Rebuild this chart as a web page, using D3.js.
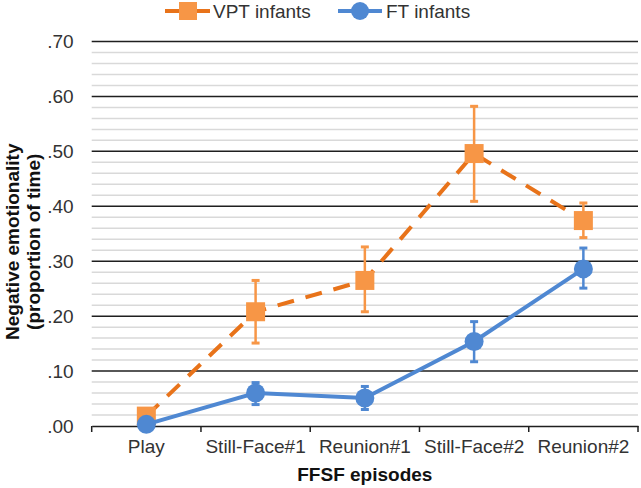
<!DOCTYPE html>
<html><head><meta charset="utf-8">
<script src="https://cdn.jsdelivr.net/npm/d3@7"></script>
<style>body{margin:0;background:#fff}svg{display:block}text{font-family:"Liberation Sans",Arial,sans-serif}</style>
</head><body><svg id="c" width="641" height="488"></svg>
<script>
const categories = ["Play","Still-Face#1","Reunion#1","Still-Face#2","Reunion#2"];
const seriesNames = ["VPT infants","FT infants"];
const vptMean = [0.018,0.208,0.265,0.496,0.374];
const vptLow  = [0.018,0.151,0.208,0.409,0.343];
const vptHigh = [0.018,0.265,0.326,0.582,0.406];
const ftMean  = [0.003,0.060,0.051,0.154,0.286];
const ftLow   = [0.003,0.039,0.030,0.117,0.251];
const ftHigh  = [0.003,0.079,0.072,0.190,0.324];
const yTicks = [0,0.1,0.2,0.3,0.4,0.5,0.6,0.7];
const xTitle = "FFSF episodes";
const yTitle = ["Negative emotionality","(proportion of time)"];

const svg = d3.select("#c");
const L=91.7, R=638, T=41.5, B=426;
const x = d3.scaleBand().domain(categories).range([L,R]).padding(0);
const cx = c => x(c)+x.bandwidth()/2;
const y = d3.scaleLinear().domain([0,0.7]).range([B,T]);
const fmt = v => d3.format(".2f")(v).replace(/^0/,"");

// minor gridlines
const minor = d3.range(0,0.7001,0.02).filter(v=>Math.abs(v*10-Math.round(v*10))>1e-6);
svg.append("g").selectAll("line").data(minor).join("line")
  .attr("x1",L).attr("x2",R).attr("y1",d=>y(d)).attr("y2",d=>y(d))
  .attr("stroke","#d9d9d9").attr("stroke-width",1.5);
// major gridlines
svg.append("g").selectAll("line").data(yTicks.filter(v=>v>0)).join("line")
  .attr("x1",L).attr("x2",R).attr("y1",d=>y(d)).attr("y2",d=>y(d))
  .attr("stroke","#1f1f1f").attr("stroke-width",1.5);

// y axis labels
const ya = svg.append("g").attr("transform",`translate(${L},0)`)
  .call(d3.axisLeft(y).tickValues(yTicks).tickFormat(fmt).tickSize(0).tickPadding(18));
ya.select(".domain").remove();
ya.selectAll("text").attr("font-size",19).attr("fill","#333").attr("font-family","Liberation Sans, Arial, sans-serif");

// x axis
const xa = svg.append("g").attr("transform",`translate(0,${B})`)
  .call(d3.axisBottom(x).tickSize(0).tickPadding(14));
xa.select(".domain").attr("stroke","#1f1f1f").attr("stroke-width",1.5);
xa.selectAll("text").attr("font-size",19).attr("fill","#333").attr("font-family","Liberation Sans, Arial, sans-serif");
const bounds = categories.map(c=>x(c)).concat([R]);
svg.append("g").selectAll("line").data(bounds).join("line")
  .attr("x1",d=>d).attr("x2",d=>d).attr("y1",B).attr("y2",B+6)
  .attr("stroke","#1f1f1f").attr("stroke-width",1.5);

// titles
svg.append("text").attr("x",(L+R)/2).attr("y",481).attr("text-anchor","middle")
  .attr("font-size",19).attr("font-weight","bold").attr("fill","#111").text(xTitle);
const yt = svg.append("text").attr("transform",`translate(19,${(T+B)/2+8}) rotate(-90)`)
  .attr("text-anchor","middle").attr("font-size",19).attr("font-weight","bold").attr("fill","#111");
yt.selectAll("tspan").data(yTitle).join("tspan").attr("x",0).attr("dy",(d,i)=>i?21:0).text(d=>d);

const orangeLine="#E8731A", orange="#F79646", blue="#4F88D2";

function errorBars(g, means, lows, highs, color){
  const d = categories.map((c,i)=>({c,lo:lows[i],hi:highs[i]})).filter(e=>e.hi>e.lo);
  g.selectAll(".eb").data(d).join("line").attr("class","eb")
    .attr("x1",e=>cx(e.c)).attr("x2",e=>cx(e.c)).attr("y1",e=>y(e.lo)).attr("y2",e=>y(e.hi))
    .attr("stroke",color).attr("stroke-width",2.5);
  ["lo","hi"].forEach(k=>{
    g.selectAll(".cap"+k).data(d).join("line").attr("class","cap"+k)
      .attr("x1",e=>cx(e.c)-4).attr("x2",e=>cx(e.c)+4).attr("y1",e=>y(e[k])).attr("y2",e=>y(e[k]))
      .attr("stroke",color).attr("stroke-width",3);
  });
}

// VPT series
const gV = svg.append("g");
gV.append("path").datum(vptMean)
  .attr("d",d3.line().x((v,i)=>cx(categories[i])).y(v=>y(v)))
  .attr("fill","none").attr("stroke",orangeLine).attr("stroke-width",4).attr("stroke-dasharray","17,12");
errorBars(gV, vptMean, vptLow, vptHigh, orange);
gV.selectAll("rect.m").data(vptMean).join("rect").attr("class","m")
  .attr("x",(v,i)=>cx(categories[i])-9.5).attr("y",v=>y(v)-9.5).attr("width",19).attr("height",19)
  .attr("fill",orange);

// FT series
const gF = svg.append("g");
gF.append("path").datum(ftMean)
  .attr("d",d3.line().x((v,i)=>cx(categories[i])).y(v=>y(v)))
  .attr("fill","none").attr("stroke",blue).attr("stroke-width",4);
errorBars(gF, ftMean, ftLow, ftHigh, blue);
gF.selectAll("circle.m").data(ftMean).join("circle").attr("class","m")
  .attr("cx",(v,i)=>cx(categories[i])).attr("cy",v=>y(v)).attr("r",9.5).attr("fill",blue);

// legend
const lg = svg.append("g");
lg.append("line").attr("x1",165).attr("x2",210).attr("y1",11).attr("y2",11).attr("stroke",orangeLine).attr("stroke-width",4);
lg.append("rect").attr("x",179).attr("y",2).attr("width",18).attr("height",18).attr("fill",orange);
lg.append("text").attr("x",213).attr("y",18).attr("font-size",19).attr("fill","#333").text(seriesNames[0]);
lg.append("line").attr("x1",338).attr("x2",382).attr("y1",11).attr("y2",11).attr("stroke",blue).attr("stroke-width",4);
lg.append("circle").attr("cx",360).attr("cy",11).attr("r",9).attr("fill",blue);
lg.append("text").attr("x",386).attr("y",18).attr("font-size",19).attr("fill","#333").text(seriesNames[1]);
</script></body></html>
